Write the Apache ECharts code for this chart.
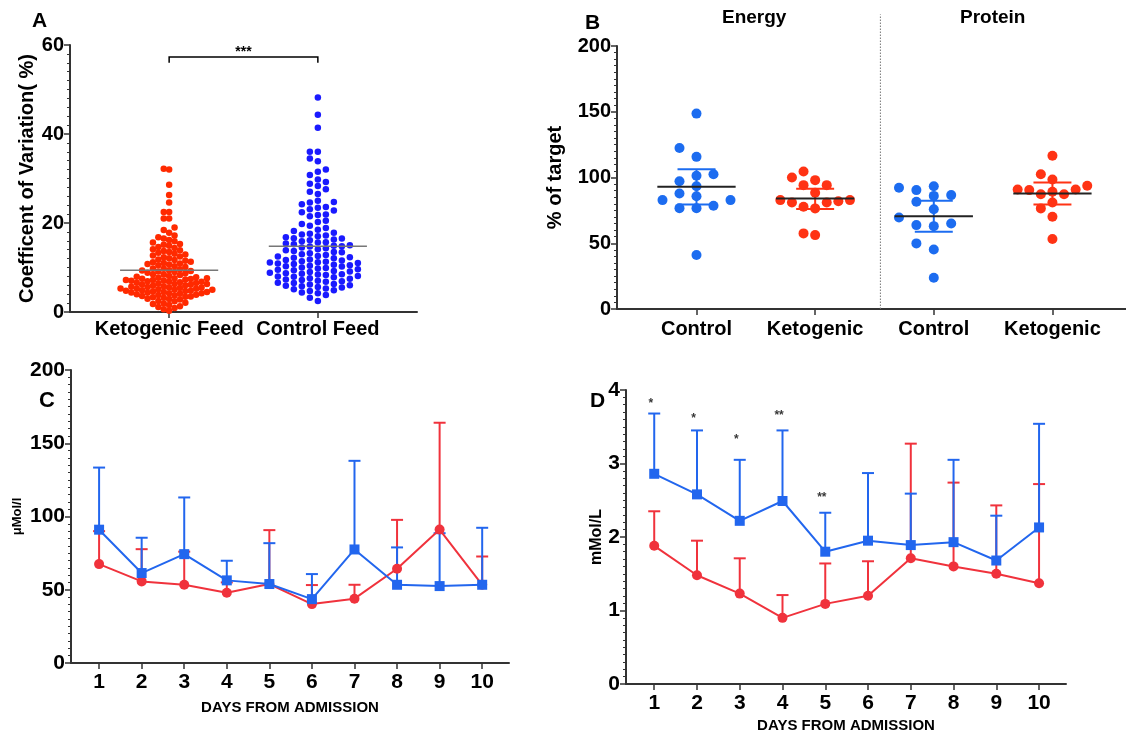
<!DOCTYPE html>
<html>
<head>
<meta charset="utf-8">
<script src="https://cdn.jsdelivr.net/npm/echarts@6/dist/echarts.min.js"></script>
<style>
  html, body { margin: 0; padding: 0; background: #fff; }
  #chart { width: 1126px; height: 735px; }
</style>
</head>
<body>
<div id="chart"></div>
<script>
const FONT = '"Liberation Sans", Arial, sans-serif';

// ---- Panel A: coefficient of variation (%) per patient
const cvGroups = ['Ketogenic Feed', 'Control Feed'];
const ketoCV = [0.3, 0.6, 0.9, 1.1, 1.3, 1.6, 1.8, 1.9,
  2.1, 2.4, 2.5, 2.8, 2.9, 3.0, 3.2, 3.3, 3.4, 3.6, 3.7, 3.8, 3.9, 3.5,
  4.0, 4.1, 4.2, 4.2, 4.3, 4.4, 4.5, 4.5, 4.6, 4.7, 4.8, 4.8, 4.9, 5.0, 5.0, 5.1, 5.2, 5.3, 5.3, 5.4, 5.5, 5.5, 5.6, 5.7, 5.8, 5.9,
  6.0, 6.1, 6.2, 6.3, 6.3, 6.4, 6.5, 6.6, 6.7, 6.8, 6.8, 6.9, 7.0, 7.1, 7.2, 7.2, 7.3, 7.4, 7.5, 7.6, 7.6, 7.7, 7.8, 7.9,
  8.1, 8.3, 8.4, 8.5, 8.7, 8.8, 9.0, 9.1, 9.2, 9.3, 9.4, 9.6, 9.7, 9.8,
  10.1, 10.3, 10.5, 10.7, 10.8, 10.9, 11.0, 11.2, 11.3, 11.5, 11.7, 11.8,
  12.1, 12.3, 12.5, 12.7, 12.9, 13.1, 13.3, 13.5, 13.7, 13.9,
  14.1, 14.4, 14.6, 14.9, 15.1, 15.3, 15.6, 15.9,
  16.2, 16.5, 16.8, 17.2, 17.8, 18.4, 19.0, 21.0, 21.0, 22.5, 22.5, 24.6, 26.3, 28.6, 32.0, 32.2];
const controlCV = [2.5, 3.2, 3.8,
  4.2, 4.4, 4.7, 4.9, 5.1, 5.3, 5.5, 5.6, 5.8, 5.9,
  6.0, 6.2, 6.3, 6.5, 6.6, 6.8, 6.9, 7.0, 7.2, 7.3, 7.5, 7.6, 7.8, 7.9,
  8.0, 8.1, 8.3, 8.4, 8.5, 8.6, 8.7, 8.8, 9.0, 9.1, 9.2, 9.4, 9.5, 9.6, 9.8, 9.9,
  10.0, 10.2, 10.3, 10.4, 10.5, 10.6, 10.8, 10.9, 11.0, 11.1, 11.2, 11.3, 11.4, 11.6, 11.7, 11.8,
  12.1, 12.2, 12.3, 12.5, 12.6, 12.8, 13.0, 13.2, 13.4, 13.5, 13.7, 13.9,
  14.1, 14.3, 14.5, 14.7, 14.8, 14.9, 15.0, 15.2, 15.4, 15.6, 15.7, 15.9,
  16.1, 16.3, 16.5, 16.6, 16.8, 17.0, 17.2, 17.4, 17.6, 17.8,
  18.2, 18.5, 18.9, 19.4, 19.8,
  20.2, 20.5, 21.5, 21.8, 21.9,
  22.4, 22.8, 23.1, 23.4, 23.6,
  24.2, 24.6, 24.7, 25.0, 26.5, 27.0, 27.6, 28.3, 28.8, 29.2, 29.8, 30.8, 31.5, 32.0, 33.9, 34.5, 36.0, 36.0, 41.4, 44.3, 48.2];
const cvMeans = [9.4, 14.8];

// ---- Panel B: % of target (energy, protein)
const intakeCats = ['Control', 'Ketogenic', 'Control', 'Ketogenic'];
const energyControl = [148.6, 122.5, 115.7, 101.3, 102.5, 97.2, 93.4, 87.8, 85.8, 82.8, 82.8, 78.5, 76.7, 76.7, 41.0];
const energyKeto = [104.6, 98.0, 100.0, 94.2, 94.2, 88.4, 82.8, 82.8, 81.0, 81.0, 82.0, 77.7, 76.5, 56.2, 57.5];
const proteinControl = [92.2, 90.4, 86.0, 86.6, 93.4, 81.5, 75.9, 69.6, 65.0, 63.0, 63.8, 49.9, 45.3, 23.8];
const proteinKeto = [116.5, 102.5, 98.5, 93.7, 90.4, 90.9, 90.9, 89.1, 87.3, 87.3, 81.0, 76.5, 70.1, 53.2];
const intakeMean = [92.9, 84.0, 70.6, 87.8];
const intakeLow = [79.5, 76.0, 58.7, 79.5];
const intakeHigh = [106.3, 91.4, 82.3, 96.2];

// ---- Panels C and D: by day from admission
const days = [1, 2, 3, 4, 5, 6, 7, 8, 9, 10];
const cControl = [91.0, 61.4, 74.3, 56.4, 53.9, 43.6, 77.5, 53.4, 52.5, 53.4];
const cControlTop = [133.4, 85.5, 113.0, 69.8, 81.8, 60.7, 138.0, 78.9, 88.6, 92.3];
const cKeto = [67.5, 55.7, 53.4, 48.0, 53.9, 40.2, 43.9, 64.3, 91.1, 53.4];
const cKetoTop = [90.0, 77.7, 76.0, 55.0, 90.7, 53.2, 53.4, 97.7, 164.0, 72.7];
const dControl = [2.86, 2.58, 2.22, 2.49, 1.80, 1.95, 1.89, 1.93, 1.68, 2.13];
const dControlTop = [3.68, 3.45, 3.05, 3.45, 2.33, 2.87, 2.59, 3.05, 2.29, 3.54];
const dKeto = [1.88, 1.48, 1.23, 0.90, 1.09, 1.20, 1.71, 1.60, 1.50, 1.37];
const dKetoTop = [2.35, 1.95, 1.71, 1.21, 1.64, 1.67, 3.27, 2.74, 2.43, 2.72];
const dStarDays = [1, 2, 3, 4, 5];
const dStarY = [3.82, 3.61, 3.32, 3.65, 2.53];
const dStars = ['*', '*', '*', '**', '**'];

const RED_A = '#ff2a00', BLUE_A = '#1a1aff';
const RED_B = '#ff3314', BLUE_B = '#1c6cf0';
const RED = '#f0323c', BLUE = '#2266ee';
const AXIS = '#333';

// grids (px): A, B, C, D
const grids = [
  { left: 70, top: 45, width: 347, height: 267 },
  { left: 617, top: 46, width: 509, height: 263 },
  { left: 71, top: 370, width: 438, height: 293 },
  { left: 626, top: 390, width: 440, height: 294 }
];

// simple lane based beeswarm, works in pixels then maps back to axis units
function swarm(values, center, yPx, xPx, laneW, minDy) {
  const sorted = values.slice().sort((a, b) => a - b);
  const placed = [];
  return sorted.map(function (v) {
    for (let k = 0; k < 60; k++) {
      const lanes = k === 0 ? [0] : [-k, k];
      for (const lane of lanes) {
        const hit = placed.some(p => p.lane === lane && Math.abs(p.v - v) * yPx < minDy);
        if (!hit) {
          placed.push({ lane: lane, v: v });
          return [center + lane * laneW / xPx, v];
        }
      }
    }
  });
}

const aYPx = 267 / 60, aXPx = 347 / 7;
const bYPx = 263 / 200, bXPx = 509 / (4.62 - 0.33);

function yAxisBase(gi, min, max, interval, fontSize, name, nameGap, nameSize) {
  return {
    gridIndex: gi, type: 'value', min: min, max: max, interval: interval,
    name: name, nameLocation: 'middle', nameGap: nameGap,
    nameTextStyle: { fontFamily: FONT, fontWeight: 'bold', fontSize: nameSize, color: '#000' },
    axisLine: { show: true, lineStyle: { color: AXIS, width: 2 } },
    axisTick: { show: true, length: 6, lineStyle: { color: AXIS, width: 1.5 } },
    minorTick: { show: true, splitNumber: 10, length: 3, lineStyle: { color: AXIS, width: 1 } },
    splitLine: { show: false },
    axisLabel: { fontFamily: FONT, fontWeight: 'bold', fontSize: fontSize, color: '#000', margin: 6 }
  };
}

function xAxisBase(gi, min, max, ticks, formatter, fontSize, margin) {
  return {
    gridIndex: gi, type: 'value', min: min, max: max,
    axisLine: { show: true, onZero: false, lineStyle: { color: AXIS, width: 2 } },
    axisTick: { show: true, length: 6, customValues: ticks, lineStyle: { color: AXIS, width: 1.5 } },
    splitLine: { show: false },
    axisLabel: { customValues: ticks, formatter: formatter, fontFamily: FONT, fontWeight: 'bold', fontSize: fontSize, color: '#000', margin: margin }
  };
}

// mean line with error bar (panel A and B)
function meanBar(halfW, capW, barColor, meanColor, meanWidth) {
  return function (params, api) {
    const x = api.value(0);
    const m = api.coord([x, api.value(1)]);
    const l = api.coord([x - halfW, api.value(1)]);
    const r = api.coord([x + halfW, api.value(1)]);
    const children = [];
    if (capW > 0) {
      const lo = api.coord([x, api.value(2)]);
      const hi = api.coord([x, api.value(3)]);
      const cw = capW * (r[0] - m[0]) / halfW;
      children.push({ type: 'line', shape: { x1: lo[0], y1: lo[1], x2: hi[0], y2: hi[1] }, style: { stroke: barColor, lineWidth: 2 } });
      children.push({ type: 'line', shape: { x1: lo[0] - cw, y1: lo[1], x2: lo[0] + cw, y2: lo[1] }, style: { stroke: barColor, lineWidth: 2 } });
      children.push({ type: 'line', shape: { x1: hi[0] - cw, y1: hi[1], x2: hi[0] + cw, y2: hi[1] }, style: { stroke: barColor, lineWidth: 2 } });
    }
    children.push({ type: 'line', shape: { x1: l[0], y1: l[1], x2: r[0], y2: r[1] }, style: { stroke: meanColor, lineWidth: meanWidth } });
    return { type: 'group', children: children };
  };
}

// upward error bar with cap (panel C and D)
function upBar(color) {
  return function (params, api) {
    const p0 = api.coord([api.value(0), api.value(1)]);
    const p1 = api.coord([api.value(0), api.value(2)]);
    return {
      type: 'group', children: [
        { type: 'line', shape: { x1: p0[0], y1: p0[1], x2: p1[0], y2: p1[1] }, style: { stroke: color, lineWidth: 2 } },
        { type: 'line', shape: { x1: p1[0] - 6, y1: p1[1], x2: p1[0] + 6, y2: p1[1] }, style: { stroke: color, lineWidth: 2 } }
      ]
    };
  };
}

const dayFmt = v => String(v);
const bColors = [BLUE_B, RED_B, BLUE_B, RED_B];
const bGroups = [energyControl, energyKeto, proteinControl, proteinKeto];
const bLaneW = [17, 11.6, 17.4, 11.6];

const series = [];

// A
series.push({ type: 'scatter', xAxisIndex: 0, yAxisIndex: 0, symbolSize: 6.5, itemStyle: { color: RED_A, opacity: 1 },
  data: swarm(ketoCV, 2, aYPx, aXPx, 5.4, 5.5), z: 2 });
series.push({ type: 'scatter', xAxisIndex: 0, yAxisIndex: 0, symbolSize: 6.5, itemStyle: { color: BLUE_A, opacity: 1 },
  data: swarm(controlCV, 5, aYPx, aXPx, 8, 6), z: 2 });
series.push({ type: 'custom', xAxisIndex: 0, yAxisIndex: 0, z: 5, clip: false,
  renderItem: meanBar(0.99, 0, '#777', '#777', 1.5),
  data: [[2, cvMeans[0]], [5, cvMeans[1]]] });
// significance bracket A
series.push({ type: 'custom', xAxisIndex: 0, yAxisIndex: 0, z: 5, clip: false,
  renderItem: function (params, api) {
    const a = api.coord([api.value(0), api.value(3)]);
    const b = api.coord([api.value(0), api.value(2)]);
    const c = api.coord([api.value(1), api.value(2)]);
    const d = api.coord([api.value(1), api.value(3)]);
    return { type: 'group', children: [
      { type: 'polyline', shape: { points: [a, b, c, d] }, style: { stroke: '#000', lineWidth: 1.5, fill: null } },
      { type: 'text', style: { text: '***', x: (b[0] + c[0]) / 2, y: b[1] - 5, align: 'center', verticalAlign: 'middle',
        font: 'bold 14px ' + FONT, fill: '#000' } }
    ] };
  },
  data: [[2, 5, 57.3, 56.0]] });

// B
bGroups.forEach(function (vals, i) {
  series.push({ type: 'scatter', xAxisIndex: 1, yAxisIndex: 1, symbolSize: 10, itemStyle: { color: bColors[i], opacity: 1 },
    data: swarm(vals, i + 1, bYPx, bXPx, bLaneW[i], 9), z: 2 });
});
series.push({ type: 'custom', xAxisIndex: 1, yAxisIndex: 1, z: 5, clip: false,
  renderItem: function (params, api) {
    return meanBar(0.33, 0.16, bColors[params.dataIndex], '#222', 2)(params, api);
  },
  data: intakeMean.map((m, i) => [i + 1, m, intakeLow[i], intakeHigh[i]]) });
// dotted separator between energy and protein
series.push({ type: 'custom', xAxisIndex: 1, yAxisIndex: 1, z: 1, clip: false,
  renderItem: function (params, api) {
    const p0 = api.coord([api.value(0), api.value(1)]);
    const p1 = api.coord([api.value(0), api.value(2)]);
    return { type: 'line', shape: { x1: p0[0], y1: p0[1], x2: p1[0], y2: p1[1] }, style: { stroke: '#777', lineWidth: 1, lineDash: [1.5, 1.5] } };
  },
  data: [[2.55, 0, 224]] });

// C
series.push({ type: 'custom', xAxisIndex: 2, yAxisIndex: 2, z: 1, clip: false, renderItem: upBar(RED),
  data: days.map((d, i) => [d, cKeto[i], cKetoTop[i]]) });
series.push({ type: 'custom', xAxisIndex: 2, yAxisIndex: 2, z: 2, clip: false, renderItem: upBar(BLUE),
  data: days.map((d, i) => [d, cControl[i], cControlTop[i]]) });
series.push({ type: 'line', xAxisIndex: 2, yAxisIndex: 2, z: 3, symbol: 'circle', symbolSize: 10, color: RED,
  lineStyle: { width: 2, color: RED }, itemStyle: { color: RED },
  data: days.map((d, i) => [d, cKeto[i]]) });
series.push({ type: 'line', xAxisIndex: 2, yAxisIndex: 2, z: 4, symbol: 'rect', symbolSize: 10, color: BLUE,
  lineStyle: { width: 2, color: BLUE }, itemStyle: { color: BLUE },
  data: days.map((d, i) => [d, cControl[i]]) });

// D
series.push({ type: 'custom', xAxisIndex: 3, yAxisIndex: 3, z: 1, clip: false, renderItem: upBar(RED),
  data: days.map((d, i) => [d, dKeto[i], dKetoTop[i]]) });
series.push({ type: 'custom', xAxisIndex: 3, yAxisIndex: 3, z: 2, clip: false, renderItem: upBar(BLUE),
  data: days.map((d, i) => [d, dControl[i], dControlTop[i]]) });
series.push({ type: 'line', xAxisIndex: 3, yAxisIndex: 3, z: 3, symbol: 'circle', symbolSize: 10, color: RED,
  lineStyle: { width: 2, color: RED }, itemStyle: { color: RED },
  data: days.map((d, i) => [d, dKeto[i]]) });
series.push({ type: 'line', xAxisIndex: 3, yAxisIndex: 3, z: 4, symbol: 'rect', symbolSize: 10, color: BLUE,
  lineStyle: { width: 2, color: BLUE }, itemStyle: { color: BLUE },
  data: days.map((d, i) => [d, dControl[i]]) });
series.push({ type: 'scatter', xAxisIndex: 3, yAxisIndex: 3, z: 5, symbolSize: 0,
  label: { show: true, position: 'inside', formatter: p => dStars[p.dataIndex], fontFamily: FONT, fontWeight: 'bold', fontSize: 12, color: '#000' },
  data: dStarDays.map((d, i) => [d - 0.08, dStarY[i]]) });

const option = {
  animation: false,
  backgroundColor: '#fff',
  grid: grids.map(g => Object.assign({ outerBoundsMode: 'none', containLabel: false }, g)),
  xAxis: [
    xAxisBase(0, 0, 7, [2, 5], v => (v === 2 ? cvGroups[0] : cvGroups[1]), 20, 7),
    xAxisBase(1, 0.33, 4.62, [1, 2, 3, 4], v => intakeCats[Math.round(v) - 1], 20, 10),
    Object.assign(xAxisBase(2, 0.34, 10.63, days, dayFmt, 21, 9), {
      name: 'DAYS FROM ADMISSION', nameLocation: 'middle', nameGap: 37,
      nameTextStyle: { fontFamily: FONT, fontWeight: 'bold', fontSize: 15, color: '#000' } }),
    Object.assign(xAxisBase(3, 0.34, 10.63, days, dayFmt, 21, 9), {
      name: 'DAYS FROM ADMISSION', nameLocation: 'middle', nameGap: 34,
      nameTextStyle: { fontFamily: FONT, fontWeight: 'bold', fontSize: 15, color: '#000' } })
  ],
  yAxis: [
    yAxisBase(0, 0, 60, 20, 20, 'Coefficent of Variation( %)', 29, 20),
    yAxisBase(1, 0, 200, 50, 20, '% of target', 52, 20),
    yAxisBase(2, 0, 200, 50, 21, 'μMol/l', 47, 13),
    yAxisBase(3, 0, 4, 1, 21, 'mMol/L', 21, 16)
  ],
  graphic: [
    { type: 'text', left: 32, top: 11, style: { text: 'A', font: 'bold 21px ' + FONT, fill: '#000' } },
    { type: 'text', left: 585, top: 13, style: { text: 'B', font: 'bold 21px ' + FONT, fill: '#000' } },
    { type: 'text', left: 39, top: 390, style: { text: 'C', font: 'bold 22px ' + FONT, fill: '#000' } },
    { type: 'text', left: 590, top: 391, style: { text: 'D', font: 'bold 21px ' + FONT, fill: '#000' } },
    { type: 'text', left: 722, top: 8, style: { text: 'Energy', font: 'bold 19px ' + FONT, fill: '#000' } },
    { type: 'text', left: 960, top: 8, style: { text: 'Protein', font: 'bold 19px ' + FONT, fill: '#000' } }
  ],
  series: series
};

const chart = echarts.init(document.getElementById('chart'), null, { renderer: 'canvas' });
chart.setOption(option);
</script>
</body>
</html>
